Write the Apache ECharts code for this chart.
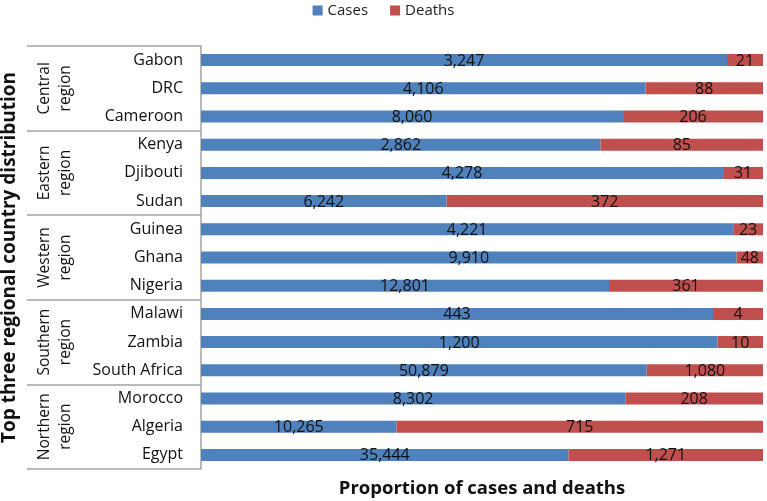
<!DOCTYPE html>
<html>
<head>
<meta charset="utf-8">
<script src="https://cdn.jsdelivr.net/npm/echarts@6/dist/echarts.min.js"></script>
<style>html,body{margin:0;padding:0;background:#fff;}#c{width:767px;height:501px;}</style>
</head>
<body>
<div id="c"></div>
<script>
var countries = ['Gabon','DRC','Cameroon','Kenya','Djibouti','Sudan','Guinea','Ghana','Nigeria','Malawi','Zambia','South Africa','Morocco','Algeria','Egypt'];
var regions = ['Central\nregion','Eastern\nregion','Western\nregion','Southern\nregion','Northern\nregion'];
var casesCount = [3247,4106,8060,2862,4278,6242,4221,9910,12801,443,1200,50879,8302,10265,35444];
var deathsCount = [21,88,206,85,31,372,23,48,361,4,10,1080,208,715,1271];
var casesShare = [93.6,79.1,75.1,71.1,92.9,43.7,94.7,95.3,72.6,91.1,91.9,79.3,75.5,34.8,65.4];
var deathsShare = [6.4,20.9,24.9,28.9,7.1,56.3,5.3,4.7,27.4,8.9,8.1,20.7,24.5,65.2,34.6];

var FONT = "'Open Sans', sans-serif";
var GRAY = '#a3a3a3';
function fmt(n){ return n.toLocaleString('en-US'); }

var chart = echarts.init(document.getElementById('c'), null, {renderer:'canvas'});
chart.setOption({
  animation: false,
  textStyle: {fontFamily: FONT},
  legend: {
    top: -2, left: 'center',
    itemWidth: 10, itemHeight: 10, itemGap: 22,
    icon: 'rect',
    textStyle: {fontSize: 15, color: '#222', fontFamily: FONT},
    data: ['Cases','Deaths']
  },
  grid: {left: 201, right: 4, top: 46, bottom: 32, containLabel: false, outerBoundsMode: 'none'},
  xAxis: {
    type: 'value', min: 0, max: 100,
    axisLine: {show: false}, axisTick: {show: false}, axisLabel: {show: false}, splitLine: {show: false},
    name: 'Proportion of cases and deaths', nameLocation: 'middle', nameGap: 10,
    nameTextStyle: {fontSize: 18.5, fontWeight: 'bold', color: '#111', fontFamily: FONT}
  },
  yAxis: [
    {
      type: 'category', data: countries, inverse: true,
      axisLine: {show: true, lineStyle: {color: GRAY, width: 1.5}},
      axisTick: {show: false},
      axisLabel: {interval: 0, fontSize: 16, color: '#111', margin: 18, fontFamily: FONT}
    },
    {
      type: 'category', data: regions, inverse: true, position: 'left', offset: 174,
      axisLine: {show: false},
      axisTick: {show: true, interval: 0, inside: true, length: 174, lineStyle: {color: GRAY, width: 1.5}},
      axisLabel: {interval: 0, inside: true, rotate: 90, margin: 7, align: 'center', verticalAlign: 'top',
        fontSize: 15.5, lineHeight: 21, color: '#111', fontFamily: FONT},
      name: 'Top three regional country distribution', nameLocation: 'middle', nameGap: 5, nameRotate: 90,
      nameTextStyle: {fontSize: 19, fontWeight: 'bold', color: '#111', fontFamily: FONT}
    }
  ],
  series: [
    {
      name: 'Cases', type: 'bar', stack: 'all', yAxisIndex: 0, barWidth: 12,
      itemStyle: {color: '#4F81BD'},
      label: {show: true, position: 'inside', fontSize: 16, color: '#111', offset: [0, 1], fontFamily: FONT,
        formatter: function(p){ return fmt(casesCount[p.dataIndex]); }},
      data: casesShare
    },
    {
      name: 'Deaths', type: 'bar', stack: 'all', yAxisIndex: 0, barWidth: 12,
      itemStyle: {color: '#C0504D'},
      label: {show: true, position: 'inside', fontSize: 16, color: '#111', offset: [0, 1], fontFamily: FONT,
        formatter: function(p){ return fmt(deathsCount[p.dataIndex]); }},
      data: deathsShare
    }
  ]
});
</script>
</body>
</html>
